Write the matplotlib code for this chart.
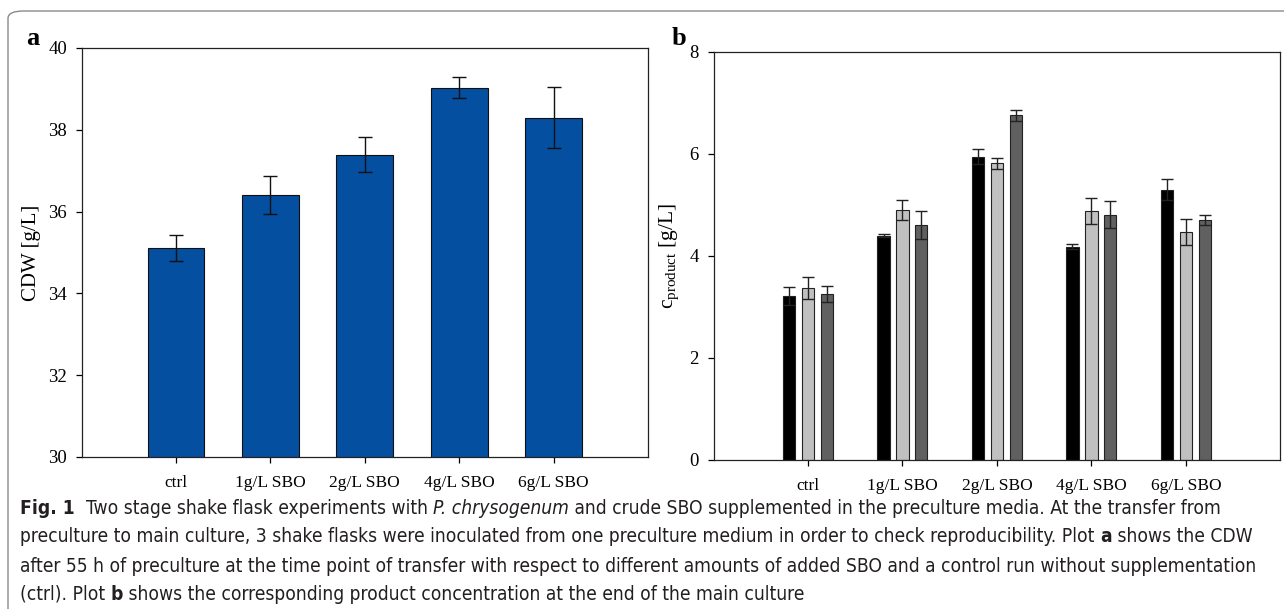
import numpy as np
import matplotlib
matplotlib.use("Agg")
import matplotlib.pyplot as plt
from matplotlib import font_manager
from matplotlib.font_manager import FontProperties
from matplotlib.patches import FancyBboxPatch

# =========================
# DATA
# =========================

categories = ["ctrl", "1g/L SBO", "2g/L SBO", "4g/L SBO", "6g/L SBO"]

# plot a: CDW after preculture
cdw = [35.11, 36.41, 37.39, 39.03, 38.30]
cdw_err = [0.33, 0.47, 0.43, 0.26, 0.75]

# plot b: product concentration, 3 flasks per preculture
flask1 = [3.21, 4.39, 5.94, 4.18, 5.30]
flask1_err = [0.17, 0.03, 0.15, 0.05, 0.21]
flask2 = [3.37, 4.90, 5.81, 4.88, 4.47]
flask2_err = [0.21, 0.20, 0.10, 0.25, 0.25]
flask3 = [3.25, 4.60, 6.75, 4.81, 4.71]
flask3_err = [0.16, 0.27, 0.10, 0.27, 0.10]

# =========================
# STYLE
# =========================

serif = "Liberation Serif"
plt.rcParams["font.family"] = [serif, "DejaVu Serif"]
plt.rcParams["mathtext.fontset"] = "custom"
plt.rcParams["mathtext.rm"] = serif
plt.rcParams["mathtext.it"] = serif + ":italic"

# caption font: a condensed sans if one is installed, else Open Sans
files = {f.fname.split("/")[-1]: f.fname for f in font_manager.fontManager.ttflist}
cond = {
    "normal": files.get("DejaVuSansCondensed.ttf"),
    "bold": files.get("DejaVuSansCondensed-Bold.ttf"),
    "italic": files.get("DejaVuSansCondensed-Oblique.ttf"),
}


def cap_props(kind, size):
    if all(cond.values()):
        return FontProperties(fname=cond[kind], size=size)
    if kind == "bold":
        return FontProperties(family="Open Sans", weight="bold", size=size)
    if kind == "italic":
        return FontProperties(family="Open Sans", style="italic", size=size)
    return FontProperties(family="Open Sans", size=size)


W, H = 1284, 609
fig = plt.figure(figsize=(W / 100, H / 100), dpi=100)


def px_axes(left, top, right, bottom):
    return fig.add_axes([left / W, 1 - bottom / H, (right - left) / W, (bottom - top) / H])


def style_axes(ax):
    for s in ax.spines.values():
        s.set_linewidth(0.9)
        s.set_color("#222222")
    ax.tick_params(axis="y", direction="out", length=4.5, width=0.9, pad=6, labelsize=13.5)
    ax.tick_params(axis="x", direction="out", length=4, width=0.9, pad=9, labelsize=12.5)
    ax.set_xticks(range(len(categories)))
    ax.set_xticklabels(categories)
    ax.set_xlim(-1, 5)


x = np.arange(len(categories))

# =========================
# PLOT A
# =========================

ax1 = px_axes(81.6, 48, 648, 457)
ax1.bar(x, cdw, width=0.6, color="#044f9f", edgecolor="#111111", linewidth=0.8, zorder=2)
ax1.errorbar(x, cdw, yerr=cdw_err, fmt="none", ecolor="#111111", elinewidth=1.0,
             capsize=4.8, capthick=1.0, zorder=3)
ax1.set_ylim(30, 40)
ax1.set_yticks([30, 32, 34, 36, 38, 40])
style_axes(ax1)
ax1.set_ylabel("CDW [g/L]", fontsize=15)
ax1.yaxis.set_label_coords(-0.0716, 0.5)

# =========================
# PLOT B
# =========================

ax2 = px_axes(713.5, 51.7, 1280.3, 460)
series = [
    (flask1, flask1_err, "#000000", -0.2),
    (flask2, flask2_err, "#c0c0c0", 0.0),
    (flask3, flask3_err, "#606060", 0.2),
]
for vals, errs, col, off in series:
    ax2.bar(x + off, vals, width=0.13, color=col, edgecolor="#222222", linewidth=0.8, zorder=2)
    ax2.errorbar(x + off, vals, yerr=errs, fmt="none", ecolor="#222222", elinewidth=1.0,
                 capsize=4.3, capthick=1.0, zorder=3)
ax2.set_ylim(0, 8)
ax2.set_yticks([0, 2, 4, 6, 8])
style_axes(ax2)
ax2.set_ylabel(r"c$_{\mathrm{product}}$ [g/L]", fontsize=15.5)
ax2.yaxis.set_label_coords(-0.057, 0.5)

# panel letters
fig.text(33 / W, 1 - 45 / H, "a", fontsize=19, fontweight="bold", ha="center", va="baseline")
fig.text(678.5 / W, 1 - 45 / H, "b", fontsize=19, fontweight="bold", ha="center", va="baseline")

# =========================
# FRAME + CAPTION
# =========================

frame = FancyBboxPatch((8 / W, -0.05), 1.2, 1 - 11 / H + 0.05,
                       boxstyle="round,pad=0,rounding_size=0.012",
                       transform=fig.transFigure, facecolor="none",
                       edgecolor="#8a8a8a", linewidth=1.0, zorder=-1)
fig.add_artist(frame)

caption = [
    [("Fig. 1", "bold"), ("  Two stage shake flask experiments with ", "normal"),
     ("P. chrysogenum", "italic"),
     (" and crude SBO supplemented in the preculture media. At the transfer from", "normal")],
    [("preculture to main culture, 3 shake flasks were inoculated from one preculture medium in order "
      "to check reproducibility. Plot ", "normal"), ("a", "bold"),
     (" shows the CDW", "normal")],
    [("after 55 h of preculture at the time point of transfer with respect to different amounts of "
      "added SBO and a control run without supplementation", "normal")],
    [("(ctrl). Plot ", "normal"), ("b", "bold"),
     (" shows the corresponding product concentration at the end of the main culture", "normal")],
]
line_y = [508, 537, 566, 594]

renderer = fig.canvas.get_renderer()

# fit font size so line 2 spans about 1232 px
probe = 10.0
tot = 0
for seg, kind in caption[1]:
    t = fig.text(0, 0, seg, fontproperties=cap_props(kind, probe))
    tot += t.get_window_extent(renderer).width
    t.remove()
cap_size = min(probe * 1232 / tot, 14)

for segs, yy in zip(caption, line_y):
    xx = 20
    for seg, kind in segs:
        t = fig.text(xx / W, 1 - yy / H, seg, fontproperties=cap_props(kind, cap_size),
                     ha="left", va="center", color="#231f20")
        xx += t.get_window_extent(renderer).width

fig.savefig("out.png", dpi=100)
